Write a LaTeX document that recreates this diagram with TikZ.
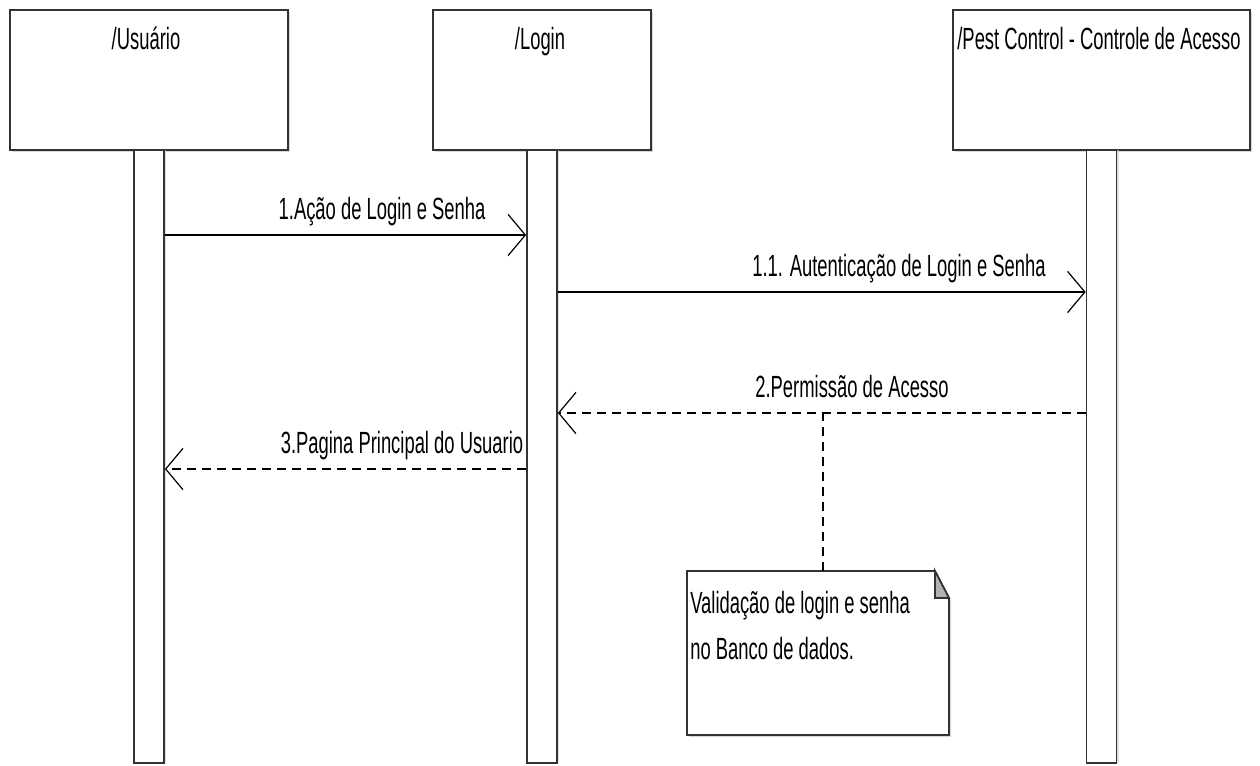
\documentclass[tikz,border=0pt]{standalone}
\usepackage{fontspec}
\setmainfont{Liberation Sans}[FakeStretch=0.6]
\usetikzlibrary{arrows.meta,shadows}
\begin{document}
\begin{tikzpicture}[x=0.75pt,y=-0.75pt,
  base/.style={line width=1.3pt, draw=black!80},
  actor/.style={base, rectangle, fill=white, inner sep=0pt,
    drop shadow={shadow xshift=1.5pt, shadow yshift=-1.5pt, fill=black!25, opacity=0.6}},
  bar/.style={base, rectangle, fill=white, inner sep=0pt, minimum width=22.5pt,
    drop shadow={shadow xshift=1.5pt, shadow yshift=0pt, fill=black!20, opacity=0.6}},
  txt/.style={inner sep=0pt, anchor=base, font=\fontsize{23}{27}\selectfont},
  msg/.style={line width=1.1pt, -{Straight Barb[length=13pt, width=31pt, line width=0.9pt]}},
  reply/.style={msg, dash pattern=on 6.75pt off 4.5pt},
  link/.style={line width=1.1pt, dash pattern=on 6.75pt off 4.5pt}
]
\useasboundingbox (0,0) rectangle (1260,765);
% actors
\node[actor, minimum width=208.5pt, minimum height=105pt] (u) at (149,80) {};
\node[actor, minimum width=163.5pt, minimum height=105pt] (l) at (542,80) {};
\node[actor, minimum width=222.75pt, minimum height=105pt] (p) at (1101.5,80) {};
\node[txt] (ut) at (146,49) {/Usuário};
\node[txt] (lt) at (540,49) {/Login};
\node[txt] (pt) at (1099,49) {/Pest Control - Controle de Acesso};
% activation bars
\node[bar, minimum height=459.75pt] (ub) at (149,456.5) {};
\node[bar, minimum height=459.75pt] (lb) at (542,456.5) {};
\node[bar, minimum height=459.75pt] (pb) at (1101.5,456.5) {};
% messages
\coordinate (m1) at (0,235);
\coordinate (m11) at (0,292);
\coordinate (m2) at (0,413);
\coordinate (m3) at (0,469);
\draw[msg] (ub.east |- m1) -- (lb.west |- m1);
\node[txt] (t1) at (382,219) {1.Ação de Login e Senha};
\draw[msg] (lb.east |- m11) -- (pb.west |- m11);
\node[txt] (t11) at (899,276) {1.1. Autenticação de Login e Senha};
\draw[reply] (pb.west |- m2) -- (lb.east |- m2);
\node[txt] (t2) at (852,397) {2.Permissão de Acesso};
\draw[reply] (lb.west |- m3) -- (ub.east |- m3);
\node[txt] (t3) at (402,453) {3.Pagina Principal do Usuario};
% note
\coordinate (nA) at (687,571);
\coordinate (nB) at (935,571);
\coordinate (nC) at (949,598);
\coordinate (nD) at (949,735);
\coordinate (nE) at (687,735);
\coordinate (nF) at (935,598);
\fill[black!25, opacity=0.6] ([shift={(2,2)}]nA) -- ([shift={(2,2)}]nB) -- ([shift={(2,2)}]nC) -- ([shift={(2,2)}]nD) -- ([shift={(2,2)}]nE) -- cycle;
\draw[base, fill=white] (nA) -- (nB) -- (nC) -- (nD) -- (nE) -- cycle;
\draw[base, fill=black!30] (nB) -- (nC) -- (nF) -- cycle;
\node[txt, anchor=base west] (n1) at (690,613) {Validação de login e senha};
\node[txt, anchor=base west] (n2) at (690,659) {no Banco de dados.};
\coordinate (nt) at (823,571);
\draw[link] (nt) -- (nt |- m2);
\end{tikzpicture}
\end{document}
